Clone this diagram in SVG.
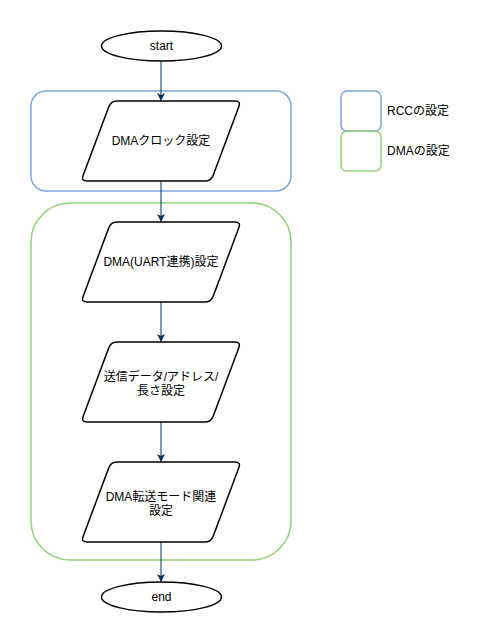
<svg xmlns="http://www.w3.org/2000/svg" xmlns:xlink="http://www.w3.org/1999/xlink" width="499" height="643" viewBox="0 0 499 643">
<style>
.t{font-family:"Liberation Sans","Noto Sans CJK JP",sans-serif;font-size:12px;fill:#000;text-anchor:middle}
.tl{font-family:"Liberation Sans","Noto Sans CJK JP",sans-serif;font-size:12px;fill:#000}
.shape{fill:#fff;stroke:#000;stroke-width:1.5}
.blue{fill:none;stroke:#7EA6E0;stroke-width:1.5}
.green{fill:none;stroke:#97D077;stroke-width:1.5}
.edge{fill:none;stroke:#003366;stroke-width:1;marker-end:url(#arr)}
</style>
<defs>
<marker id="arr" viewBox="0 0 10 10" refX="10" refY="5" markerWidth="8" markerHeight="8" markerUnits="userSpaceOnUse" orient="auto">
<path d="M0,0 L10,5 L0,10 L2.5,5 Z" fill="#003366"/>
</marker>
<path id="para" d="M117,0 L235,0 Q241,0 238.9,5.6 L213.1,74.4 Q211,80 205,80 L87,80 Q81,80 83.1,74.4 L108.9,5.6 Q111,0 117,0 Z"/>
</defs>
<rect width="499" height="643" fill="#fff"/>
<g id="rcc-group"><rect class="blue" x="31" y="91" width="260" height="100" rx="15" ry="15"/></g>
<g id="dma-group"><rect class="green" x="31" y="203" width="260" height="357" rx="39" ry="39"/></g>
<g id="legend-rcc"><rect class="blue" x="341" y="91" width="40" height="40" rx="6" ry="6"/><text class="tl" x="387" y="115">RCCの設定</text></g>
<g id="legend-dma"><rect class="green" x="341" y="131" width="40" height="40" rx="6" ry="6"/><text class="tl" x="387" y="155">DMAの設定</text></g>
<g id="connectors">
<line class="edge" x1="161" y1="61" x2="161" y2="101"/>
<line class="edge" x1="161" y1="181" x2="161" y2="222"/>
<line class="edge" x1="161" y1="302" x2="161" y2="342"/>
<line class="edge" x1="161" y1="422" x2="161" y2="462"/>
<line class="edge" x1="161" y1="542" x2="161" y2="582"/>
</g>
<g id="start"><ellipse class="shape" cx="161.5" cy="46" rx="60" ry="15"/><text class="t" x="161.5" y="50">start</text></g>
<g id="dma-clock"><use class="shape" xlink:href="#para" href="#para" y="101"/><text class="t" x="161" y="145">DMAクロック設定</text></g>
<g id="dma-uart"><use class="shape" xlink:href="#para" href="#para" y="222"/><text class="t" x="161" y="266">DMA(UART連携)設定</text></g>
<g id="dma-data"><use class="shape" xlink:href="#para" href="#para" y="342"/><text class="t" x="161" y="381">送信データ/アドレス/</text><text class="t" x="161" y="395">長さ設定</text></g>
<g id="dma-mode"><use class="shape" xlink:href="#para" href="#para" y="462"/><text class="t" x="161" y="501">DMA転送モード関連</text><text class="t" x="161" y="515">設定</text></g>
<g id="end"><ellipse class="shape" cx="161.5" cy="597" rx="60" ry="15"/><text class="t" x="161.5" y="601">end</text></g>
</svg>
